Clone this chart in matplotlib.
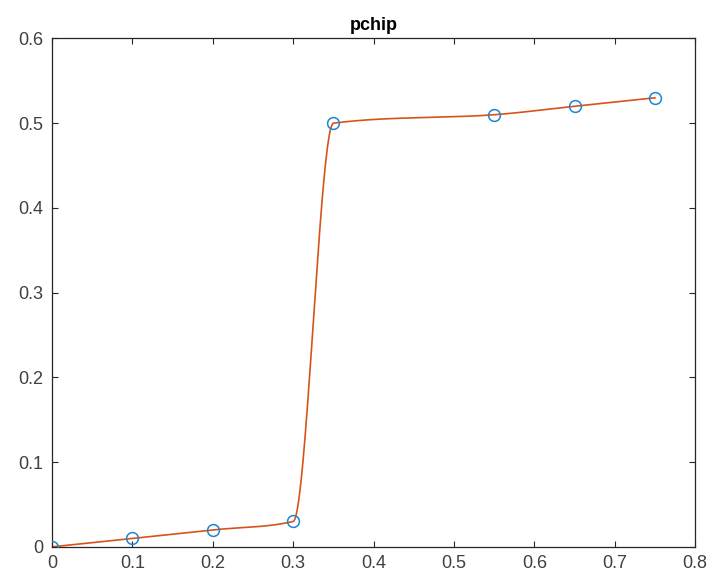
import numpy as np
import matplotlib.pyplot as plt

# sample points
x = [0, 0.1, 0.2, 0.3, 0.35, 0.55, 0.65, 0.75]
y = [0, 0.01, 0.02, 0.03, 0.5, 0.51, 0.52, 0.53]

BLUE = "#1f85d0"
ORANGE = "#d95319"

plt.rcParams["font.family"] = ["Liberation Sans", "DejaVu Sans"]


def pchip_slopes(xs, ys):
    # Fritsch-Carlson derivatives, same scheme as MATLAB pchip
    h = np.diff(xs)
    delta = np.diff(ys) / h
    n = len(xs)
    d = np.zeros(n)
    for k in range(1, n - 1):
        if delta[k - 1] * delta[k] > 0:
            w1 = 2 * h[k] + h[k - 1]
            w2 = h[k] + 2 * h[k - 1]
            d[k] = (w1 + w2) / (w1 / delta[k - 1] + w2 / delta[k])

    def end_slope(h0, h1, del0, del1):
        s = ((2 * h0 + h1) * del0 - h0 * del1) / (h0 + h1)
        if np.sign(s) != np.sign(del0):
            s = 0
        elif np.sign(del0) != np.sign(del1) and abs(s) > abs(3 * del0):
            s = 3 * del0
        return s

    d[0] = end_slope(h[0], h[1], delta[0], delta[1])
    d[-1] = end_slope(h[-1], h[-2], delta[-1], delta[-2])
    return d


def pchip_eval(xs, ys, xq):
    xs = np.asarray(xs, float)
    ys = np.asarray(ys, float)
    d = pchip_slopes(xs, ys)
    idx = np.clip(np.searchsorted(xs, xq) - 1, 0, len(xs) - 2)
    h = xs[idx + 1] - xs[idx]
    t = (xq - xs[idx]) / h
    h00 = 2 * t**3 - 3 * t**2 + 1
    h10 = t**3 - 2 * t**2 + t
    h01 = -2 * t**3 + 3 * t**2
    h11 = t**3 - t**2
    return h00 * ys[idx] + h10 * h * d[idx] + h01 * ys[idx + 1] + h11 * h * d[idx + 1]


xq = np.linspace(x[0], x[-1], 1500)
yq = pchip_eval(x, y, xq)

fig = plt.figure(figsize=(7.13, 5.83), dpi=100)
ax = fig.add_axes([0.073, 0.062, 0.902, 0.872])

ax.plot(x, y, "o", mfc="none", mec=BLUE, ms=8.5, mew=1.1, zorder=3)
ax.plot(xq, yq, color=ORANGE, lw=1.2, zorder=2)

ax.set_xlim(0, 0.8)
ax.set_ylim(0, 0.6)
ax.set_xticks(np.arange(0, 0.81, 0.1))
ax.set_yticks(np.arange(0, 0.61, 0.1))
ax.set_xticklabels(["0", "0.1", "0.2", "0.3", "0.4", "0.5", "0.6", "0.7", "0.8"])
ax.set_yticklabels(["0", "0.1", "0.2", "0.3", "0.4", "0.5", "0.6"])

for s in ax.spines.values():
    s.set_color("#262626")
    s.set_linewidth(0.9)
ax.tick_params(direction="in", top=True, right=True, length=4, width=0.8,
               color="#262626", labelcolor="#404040", labelsize=13, pad=6)

ax.set_title("pchip", fontsize=13, fontweight="bold", color="black", pad=6)

fig.savefig("out.png", dpi=100)
